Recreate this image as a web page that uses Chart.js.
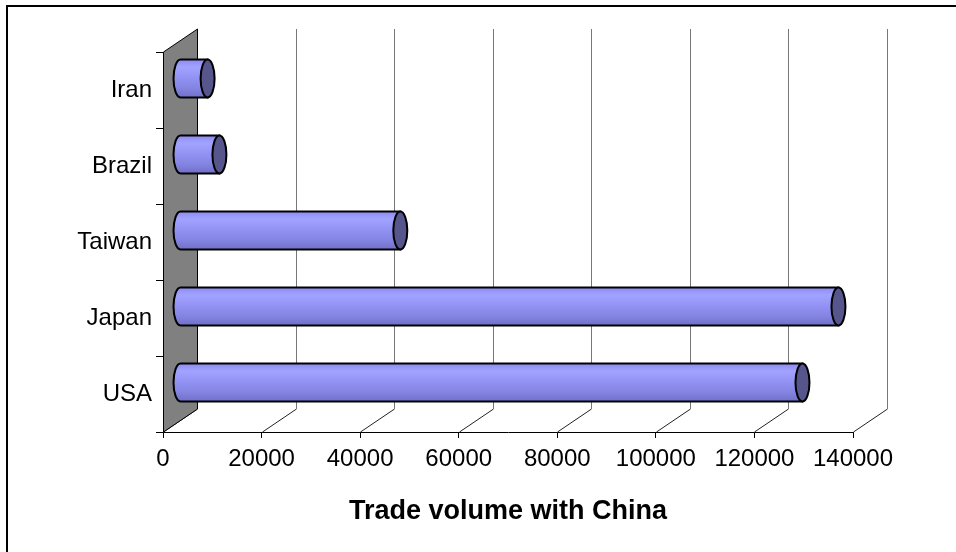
<!DOCTYPE html>
<html>
<head>
<meta charset="utf-8">
<title>Trade volume with China</title>
<script src="https://cdn.jsdelivr.net/npm/chart.js@4.4.1/dist/chart.umd.min.js"></script>
<style>
  html, body { margin: 0; padding: 0; background: #fff; }
  #wrap { width: 956px; height: 552px; }
</style>
</head>
<body>
<div id="wrap"><canvas id="myChart" width="956" height="552"></canvas></div>
<script>
// values (millions USD)
const countries = ["Iran", "Brazil", "Taiwan", "Japan", "USA"];
const tradeVolume = [5600, 8000, 44700, 133600, 126300];
const axisTicks = [0, 20000, 40000, 60000, 80000, 100000, 120000, 140000];
const axisTitle = "Trade volume with China";

const FONT = "'Liberation Sans', Arial, sans-serif";
// how far the back wall sits behind the front axis
const depth = { dx: 34, dy: -23 };

function drawCylinder(ctx, x0, x1, yc, h) {
  const ry = h / 2;
  const rx = 7;
  const grad = ctx.createLinearGradient(0, yc - ry, 0, yc + ry);
  grad.addColorStop(0, "#8c8cf2");
  grad.addColorStop(0.2, "#a2a2ff");
  grad.addColorStop(0.45, "#9494f6");
  grad.addColorStop(0.75, "#8484e2");
  grad.addColorStop(1, "#7070ca");

  ctx.beginPath();
  ctx.moveTo(x0, yc - ry);
  ctx.lineTo(x1, yc - ry);
  ctx.lineTo(x1, yc + ry);
  ctx.lineTo(x0, yc + ry);
  ctx.ellipse(x0, yc, rx, ry, 0, Math.PI / 2, Math.PI * 1.5);
  ctx.closePath();
  ctx.fillStyle = grad;
  ctx.fill();
  ctx.lineWidth = 2;
  ctx.strokeStyle = "#000";
  ctx.stroke();

  // end cap
  ctx.beginPath();
  ctx.ellipse(x1, yc, rx, ry, 0, 0, Math.PI * 2);
  ctx.fillStyle = "#56568c";
  ctx.fill();
  ctx.stroke();
}

const box3d = {
  id: "box3d",
  beforeDraw(chart) {
    const ctx = chart.ctx;
    ctx.save();
    ctx.strokeStyle = "#000";
    ctx.lineWidth = 2;
    ctx.beginPath();
    ctx.moveTo(7, 560);
    ctx.lineTo(7, 6);
    ctx.lineTo(960, 6);
    ctx.stroke();
    ctx.restore();
  },
  beforeDatasetsDraw(chart) {
    const { ctx, chartArea: a, scales: { x } } = chart;
    const { dx, dy } = depth;
    ctx.save();
    ctx.lineWidth = 1;
    // back wall gridlines and floor diagonals
    x.ticks.forEach((t) => {
      const px = Math.round(x.getPixelForValue(t.value)) + 0.5;
      ctx.strokeStyle = "#222";
      ctx.beginPath();
      ctx.moveTo(px, a.bottom);
      ctx.lineTo(px + dx, a.bottom + dy);
      ctx.stroke();
      if (t.value !== 0) {
        ctx.strokeStyle = "#777";
        ctx.beginPath();
        ctx.moveTo(px + dx, a.bottom + dy);
        ctx.lineTo(px + dx, a.top + dy);
        ctx.stroke();
      }
    });
    // side wall
    const x0 = Math.round(x.getPixelForValue(0)) + 0.5;
    ctx.beginPath();
    ctx.moveTo(x0, a.top);
    ctx.lineTo(x0 + dx, a.top + dy);
    ctx.lineTo(x0 + dx, a.bottom + dy);
    ctx.lineTo(x0, a.bottom);
    ctx.closePath();
    ctx.fillStyle = "#808080";
    ctx.fill();
    ctx.strokeStyle = "#000";
    ctx.stroke();
    ctx.restore();
  },
  afterDatasetsDraw(chart) {
    const { ctx } = chart;
    const meta = chart.getDatasetMeta(0);
    ctx.save();
    meta.data.forEach((bar) => {
      const p = bar.getProps(["x", "y", "base", "height"], true);
      drawCylinder(ctx, p.base + depth.dx / 2, p.x + depth.dx / 2, p.y + depth.dy / 2, p.height);
    });
    ctx.restore();
  },
};

const ctx = document.getElementById("myChart").getContext("2d");
new Chart(ctx, {
  type: "bar",
  data: {
    labels: countries,
    datasets: [
      {
        data: tradeVolume,
        backgroundColor: "rgba(0,0,0,0)",
        borderWidth: 0,
        categoryPercentage: 1,
        barPercentage: 0.5,
      },
    ],
  },
  options: {
    indexAxis: "y",
    responsive: false,
    animation: false,
    layout: { padding: { left: 0, top: 52, right: 103, bottom: 0 } },
    plugins: { legend: { display: false }, tooltip: { enabled: false } },
    scales: {
      x: {
        min: axisTicks[0],
        max: axisTicks[axisTicks.length - 1],
        ticks: {
          stepSize: axisTicks[1] - axisTicks[0],
          color: "#000",
          font: { family: FONT, size: 24 },
          padding: 7,
          callback: (v) => String(v),
        },
        grid: { drawOnChartArea: false, drawTicks: true, tickLength: 6, color: "#000" },
        border: { display: true, color: "#000", width: 1 },
        title: {
          display: true,
          text: axisTitle,
          color: "#000",
          font: { family: FONT, size: 27, weight: "bold" },
          padding: { top: 0, bottom: 24 },
        },
        afterFit: (s) => { s.height = 120; },
      },
      y: {
        ticks: { color: "#000", font: { family: FONT, size: 24 }, padding: 4 },
        grid: { drawOnChartArea: false, drawTicks: true, tickLength: 7, color: "#000", offset: true },
        border: { display: true, color: "#000", width: 1 },
        afterFit: (s) => { s.width = 163; },
      },
    },
  },
  plugins: [box3d],
});
</script>
</body>
</html>
